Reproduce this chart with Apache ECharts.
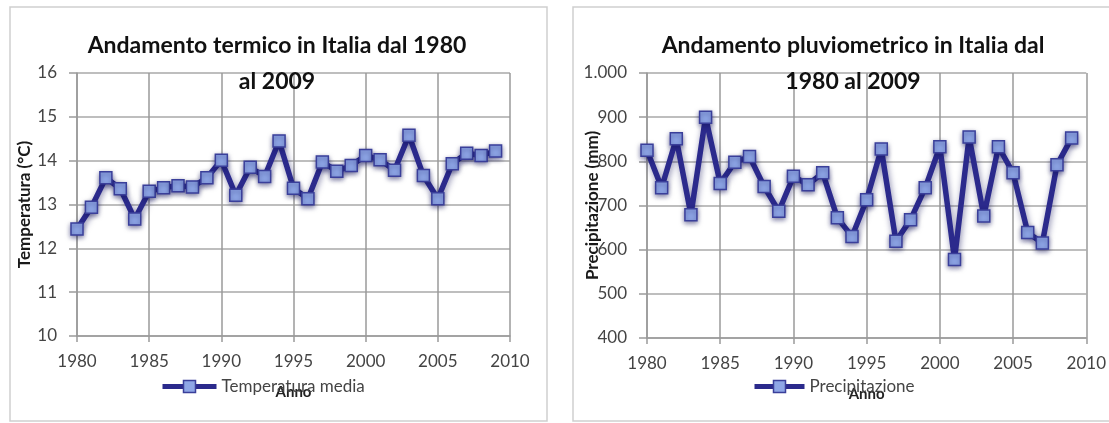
<!DOCTYPE html>
<html>
<head>
<meta charset="utf-8">
<script src="https://cdn.jsdelivr.net/npm/echarts@6/dist/echarts.min.js"></script>
<style>
html,body{margin:0;padding:0;background:#fff;}
#c{width:1109px;height:423px;}
</style>
</head>
<body>
<div id="c"></div>
<script>
var years = [1980,1981,1982,1983,1984,1985,1986,1987,1988,1989,1990,1991,1992,1993,1994,1995,1996,1997,1998,1999,2000,2001,2002,2003,2004,2005,2006,2007,2008,2009];
var temperatura = [12.44,12.94,13.61,13.36,12.67,13.3,13.38,13.43,13.4,13.61,14.01,13.21,13.85,13.64,14.45,13.37,13.13,13.97,13.76,13.89,14.12,14.02,13.78,14.58,13.66,13.13,13.93,14.17,14.12,14.22];
var precipitazione = [825,740,851,679,900,750,798,811,743,687,766,747,774,672,630,713,828,619,668,740,833,578,855,676,833,774,639,615,792,853];
var titleLeft = "Andamento termico in Italia dal 1980\nal 2009";
var titleRight = "Andamento pluviometrico in Italia dal\n1980 al 2009";
var xTickLabels = function(v){ return String(v); };
var yRightLabels = function(v){ return v === 1000 ? '1.000' : String(v); };

var FONT = "Lato";
var lineColor = "#2b2a8c";
var markerFill = "#8ea6e6";

function pairs(v){ return years.map(function(y,i){ return [y, v[i]]; }); }

function xAxis(idx){
  return {
    type:'value', gridIndex:idx, min:1980, max:2010, interval:5,
    name:'Anno', nameLocation:'middle', nameGap:49, nameMoveOverlap:false,
    nameTextStyle:{fontFamily:FONT, fontWeight:'bold', fontSize:15, color:'#222'},
    axisLine:{show:true, onZero:false, lineStyle:{color:'#9a9a9a', width:1.5}},
    axisTick:{show:true, length:6, lineStyle:{color:'#9a9a9a', width:1.5}},
    axisLabel:{fontFamily:FONT, fontSize:17, color:'#444', margin:17, formatter:xTickLabels},
    splitLine:{show:true, lineStyle:{color:'#9a9a9a', width:1.5}}
  };
}
function yAxis(idx, min, max, interval, name, fmt, gap){
  return {
    type:'value', gridIndex:idx, min:min, max:max, interval:interval,
    name:name, nameLocation:'middle', nameGap:gap, nameMoveOverlap:false,
    nameTextStyle:{fontFamily:FONT, fontWeight:'bold', fontSize:17, color:'#1a1a1a'},
    axisLine:{show:true, lineStyle:{color:'#9a9a9a', width:1.5}},
    axisTick:{show:true, length:8, lineStyle:{color:'#9a9a9a', width:1.5}},
    axisLabel:{fontFamily:FONT, fontSize:17, color:'#444', margin:20, formatter:fmt},
    splitLine:{show:true, lineStyle:{color:'#a8a8a8', width:1.5}}
  };
}
function series(idx, name, v){
  return {
    type:'line', name:name, xAxisIndex:idx, yAxisIndex:idx, data:pairs(v),
    symbol:'rect', symbolSize:12,
    lineStyle:{color:lineColor, width:5.5, shadowColor:'rgba(20,20,90,0.5)', shadowBlur:6, shadowOffsetX:1, shadowOffsetY:2},
    itemStyle:{color:markerFill, borderColor:'#3a3f9a', borderWidth:1.5, shadowColor:'rgba(20,20,90,0.5)', shadowBlur:5, shadowOffsetY:2},
    emphasis:{disabled:true}, animation:false
  };
}
function legend(name, left, w){
  return {
    data:[name], left:left, top:373, itemWidth:w, itemHeight:15, itemGap:2,
    lineStyle:{width:5, color:lineColor},
    itemStyle:{color:markerFill, borderColor:'#3a3f9a', borderWidth:1.5},
    textStyle:{fontFamily:FONT, fontSize:17, color:'#444'}
  };
}

var chart = echarts.init(document.getElementById('c'));
chart.setOption({
  animation:false,
  graphic:[
    {type:'rect', shape:{x:10, y:7, width:537, height:414}, style:{fill:'none', stroke:'#cfcfcf', lineWidth:1.5}, z:-1},
    {type:'rect', shape:{x:573, y:7, width:560, height:414}, style:{fill:'none', stroke:'#cfcfcf', lineWidth:1.5}, z:-1}
  ],
  title:[
    {text:titleLeft, left:272, top:23, textAlign:'center',
     textStyle:{fontFamily:FONT, fontWeight:'bold', fontSize:23, color:'#111', lineHeight:36}},
    {text:titleRight, left:848, top:23, textAlign:'center',
     textStyle:{fontFamily:FONT, fontWeight:'bold', fontSize:23, color:'#111', lineHeight:36}}
  ],
  legend:[
    legend('Temperatura media', 155, 54),
    legend('Precipitazione', 747, 50)
  ],
  grid:[
    {left:77, right:599, top:73, bottom:87},
    {left:647, right:22, top:73, bottom:85}
  ],
  xAxis:[xAxis(0), xAxis(1)],
  yAxis:[
    yAxis(0, 10, 16, 1, 'Temperatura (°C)', null, 44),
    yAxis(1, 400, 1000, 100, 'Precipitazione (mm)', yRightLabels, 46)
  ],
  series:[
    series(0, 'Temperatura media', temperatura),
    series(1, 'Precipitazione', precipitazione)
  ]
});
</script>
</body>
</html>
